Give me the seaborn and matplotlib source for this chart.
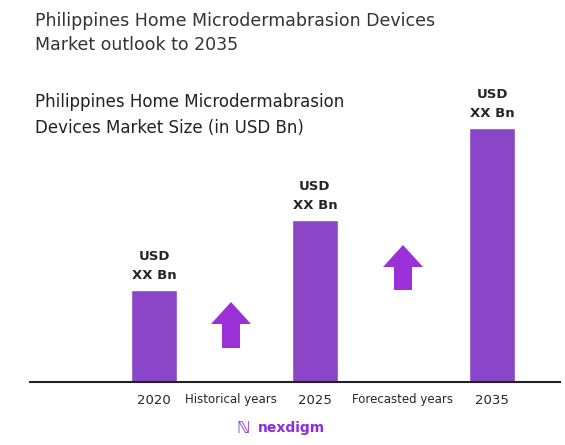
import matplotlib.pyplot as plt
import pandas as pd
import seaborn as sns
from matplotlib.patches import FancyArrow

years = ["2020", "2025", "2035"]
bar_pos = [124, 285, 462]
bar_height = [92, 162, 254]
bar_labels = ["USD\nXX Bn", "USD\nXX Bn", "USD\nXX Bn"]
period_labels = ["Historical years", "Forecasted years"]
period_pos = [201, 373]
arrow_span = [(34, 80), (92, 137)]

df = pd.DataFrame({"pos": bar_pos, "h": bar_height})

sns.set_theme(style="white")
plt.rcParams['font.family'] = ['DejaVu Sans']
purple = "#8a46c6"

fig = plt.figure(figsize=(5.65, 4.45), dpi=100)
ax = fig.add_axes([30/565, 63/445, 530/565, 322/445])
sns.barplot(data=df, x="pos", y="h", native_scale=True, width=0.286,
            color=purple, saturation=1, ax=ax)
ax.set_xlim(0, 530)
ax.set_ylim(0, 322)
for s in ["top", "right", "left"]:
    ax.spines[s].set_visible(False)
ax.spines["bottom"].set_color("#222222")
ax.spines["bottom"].set_linewidth(1.5)
ax.set_xticks([])
ax.set_yticks([])
ax.set_xlabel("")
ax.set_ylabel("")

for p, h, t in zip(bar_pos, bar_height, bar_labels):
    ax.text(p, h + 8, t, ha="center", va="bottom", fontsize=9.5,
            fontweight="bold", linespacing=1.6)
for p, y in zip(bar_pos, years):
    ax.text(p, -18, y, ha="center", va="center", fontsize=9.5)
for p, t in zip(period_pos, period_labels):
    ax.text(p, -18, t, ha="center", va="center", fontsize=8.5)
for p, (y0, y1) in zip(period_pos, arrow_span):
    ax.add_patch(FancyArrow(p, y0, 0, y1 - y0, width=18, head_width=40,
                            head_length=22, length_includes_head=True,
                            color="#9b30d9", lw=0))

fig.text(35/565, 1 - 33/445, "Philippines Home Microdermabrasion Devices\nMarket outlook to 2035",
         ha="left", va="center", fontsize=12.5, color="#333333", linespacing=1.5)
fig.text(35/565, 1 - 115/445, "Philippines Home Microdermabrasion\nDevices Market Size (in USD Bn)",
         ha="left", va="center", fontsize=12, color="#222222", linespacing=1.6)
fig.text(258/565, 1 - 428/445, "nexdigm", ha="left", va="center",
         fontsize=10, color="#8a2be2", fontweight="bold")
fig.text(243/565, 1 - 428/445, "\u2115", ha="center", va="center",
         fontsize=12, color="#8a2be2")

fig.savefig("out.png", dpi=100)
